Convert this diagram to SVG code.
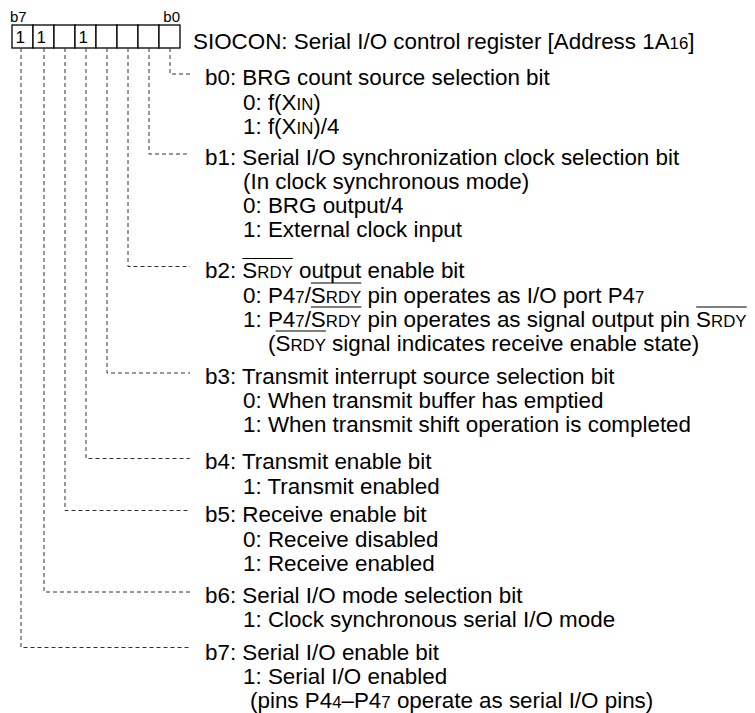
<svg xmlns="http://www.w3.org/2000/svg" width="755" height="713" viewBox="0 0 755 713">
<style>
text{font-family:"Liberation Sans",Arial,sans-serif;font-size:22.4px;fill:#000}
.sm{font-size:16.8px}
.lbl{font-size:15px}
.dig{font-size:17px}
.cell{fill:#fff;stroke:#000;stroke-width:1.3}
.conn{fill:none;stroke:#333;stroke-width:1;stroke-dasharray:4 3}
.ov{stroke:#000;stroke-width:1.2}
</style>
<rect width="755" height="713" fill="#fff"/>
<g id="register">
<text class="lbl" x="10" y="21.5">b7</text>
<text class="lbl" x="180" y="21.5" text-anchor="end">b0</text>
<rect class="cell" x="12" y="25" width="21" height="23"/>
<rect class="cell" x="33" y="25" width="21" height="23"/>
<rect class="cell" x="54" y="25" width="21" height="23"/>
<rect class="cell" x="75" y="25" width="21" height="23"/>
<rect class="cell" x="96" y="25" width="21" height="23"/>
<rect class="cell" x="117" y="25" width="21" height="23"/>
<rect class="cell" x="138" y="25" width="21" height="23"/>
<rect class="cell" x="159" y="25" width="21" height="23"/>
<text class="dig" x="15.5" y="43">1</text>
<text class="dig" x="36.5" y="43">1</text>
<text class="dig" x="78.5" y="43">1</text>
<text x="193" y="49">SIOCON: Serial I/O control register [Address 1A<tspan class="sm">16</tspan>]</text>
</g>
<g id="connectors">
<path class="conn" d="M170,48 V74 H190"/>
<path class="conn" d="M149,48 V154 H190"/>
<path class="conn" d="M128,48 V266.5 H190"/>
<path class="conn" d="M107,48 V373 H190"/>
<path class="conn" d="M86,48 V458.5 H190"/>
<path class="conn" d="M65,48 V510.5 H190"/>
<path class="conn" d="M44,48 V592 H190"/>
<path class="conn" d="M21,48 V647.5 H190"/>
</g>
<g id="b0">
<text x="205" y="85">b0: BRG count source selection bit</text>
<text x="243" y="109.5">0: f(X<tspan class="sm">IN</tspan>)</text>
<text x="243" y="134">1: f(X<tspan class="sm">IN</tspan>)/4</text>
</g>
<g id="b1">
<text x="205" y="165">b1: Serial I/O synchronization clock selection bit</text>
<text x="243" y="189">(In clock synchronous mode)</text>
<text x="243" y="213">0: BRG output/4</text>
<text x="243" y="237">1: External clock input</text>
</g>
<g id="b2">
<text x="205" y="278">b2: S<tspan class="sm">RDY</tspan> output enable bit</text>
<text x="243" y="302.5">0: P4<tspan class="sm">7</tspan>/S<tspan class="sm">RDY</tspan> pin operates as I/O port P4<tspan class="sm">7</tspan></text>
<text x="243" y="326.5">1: P4<tspan class="sm">7</tspan>/S<tspan class="sm">RDY</tspan> pin operates as signal output pin S<tspan class="sm">RDY</tspan></text>
<text x="268" y="350.5">(S<tspan class="sm">RDY</tspan> signal indicates receive enable state)</text>
<line class="ov" x1="242.4" y1="258.5" x2="292.8" y2="258.5"/>
<line class="ov" x1="310.9" y1="283" x2="361.3" y2="283"/>
<line class="ov" x1="310.9" y1="307" x2="361.3" y2="307"/>
<line class="ov" x1="696.2" y1="307" x2="746.6" y2="307"/>
<line class="ov" x1="275.5" y1="331" x2="325.9" y2="331"/>
</g>
<g id="b3">
<text x="205" y="383.5">b3: Transmit interrupt source selection bit</text>
<text x="243" y="408">0: When transmit buffer has emptied</text>
<text x="243" y="432">1: When transmit shift operation is completed</text>
</g>
<g id="b4">
<text x="205" y="469">b4: Transmit enable bit</text>
<text x="243" y="494">1: Transmit enabled</text>
</g>
<g id="b5">
<text x="205" y="521.5">b5: Receive enable bit</text>
<text x="243" y="546.5">0: Receive disabled</text>
<text x="243" y="571">1: Receive enabled</text>
</g>
<g id="b6">
<text x="205" y="603">b6: Serial I/O mode selection bit</text>
<text x="243" y="627">1: Clock synchronous serial I/O mode</text>
</g>
<g id="b7">
<text x="205" y="660">b7: Serial I/O enable bit</text>
<text x="243" y="684">1: Serial I/O enabled</text>
<text x="250" y="708">(pins P4<tspan class="sm">4</tspan>–P4<tspan class="sm">7</tspan> operate as serial I/O pins)</text>
</g>
</svg>
